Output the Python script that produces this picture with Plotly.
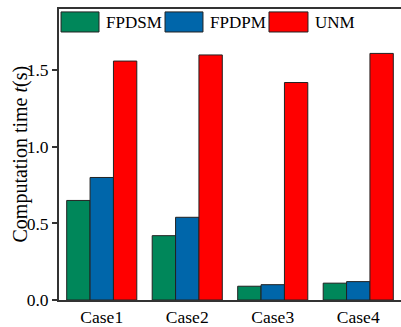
import plotly.graph_objects as go

categories = ["Case1", "Case2", "Case3", "Case4"]
fpdsm = [0.65, 0.42, 0.09, 0.11]
fpdpm = [0.80, 0.54, 0.10, 0.12]
unm = [1.56, 1.60, 1.42, 1.61]
series_names = ["FPDSM", "FPDPM", "UNM"]
colors = ["#00875A", "#0066AA", "#FF0000"]
ytick_vals = [0.0, 0.5, 1.0, 1.5]
ytick_text = ["0.0", "0.5", "1.0", "1.5"]

font = "Liberation Serif"
fig = go.Figure()
for name, vals, c in zip(series_names, [fpdsm, fpdpm, unm], colors):
    fig.add_trace(go.Bar(x=categories, y=vals, name=name, marker_color=c,
                         marker_line_color="#222222", marker_line_width=1))

# custom legend with wide swatches
sw = [(0.006, 0.117, 0.132), (0.310, 0.421, 0.436), (0.614, 0.728, 0.743)]
for (x0, x1, xt), name, c in zip(sw, series_names, colors):
    fig.add_shape(type="rect", xref="paper", yref="paper", x0=x0, x1=x1,
                  y0=0.921, y1=0.990, fillcolor=c, line=dict(color="#222222", width=1))
    fig.add_annotation(xref="paper", yref="paper", x=xt, y=0.955, text=name,
                       showarrow=False, xanchor="left", yanchor="middle",
                       font=dict(family=font, size=17, color="black"))

# y-axis title
fig.add_annotation(xref="paper", yref="paper", x=-0.114, y=0.5,
                   text="Computation time <i>t</i>(s)", textangle=-90,
                   showarrow=False, xanchor="center", yanchor="middle",
                   font=dict(family=font, size=20, color="black"))

fig.update_layout(
    width=401, height=327,
    margin=dict(l=59, r=0, t=9, b=27, autoexpand=False),
    plot_bgcolor="white", paper_bgcolor="white",
    barmode="group", bargap=0.18, bargroupgap=0,
    showlegend=False,
    font=dict(family=font, size=17, color="black"),
)
fig.update_xaxes(showline=True, linecolor="#333333", linewidth=2, mirror=True,
                 ticks="", tickfont=dict(size=17.5), showgrid=False, automargin=False)
fig.update_yaxes(range=[0, 1.9], tickvals=ytick_vals, ticktext=ytick_text,
                 showline=True, linecolor="#333333", linewidth=2, mirror=False,
                 ticks="outside", ticklen=5, tickwidth=1.5, tickcolor="#333333",
                 showgrid=False, zeroline=False, tickfont=dict(size=17.5),
                 automargin=False)

fig.write_html("out.html", post_script="document.body.style.margin='0';",
               config={"displayModeBar": False})
